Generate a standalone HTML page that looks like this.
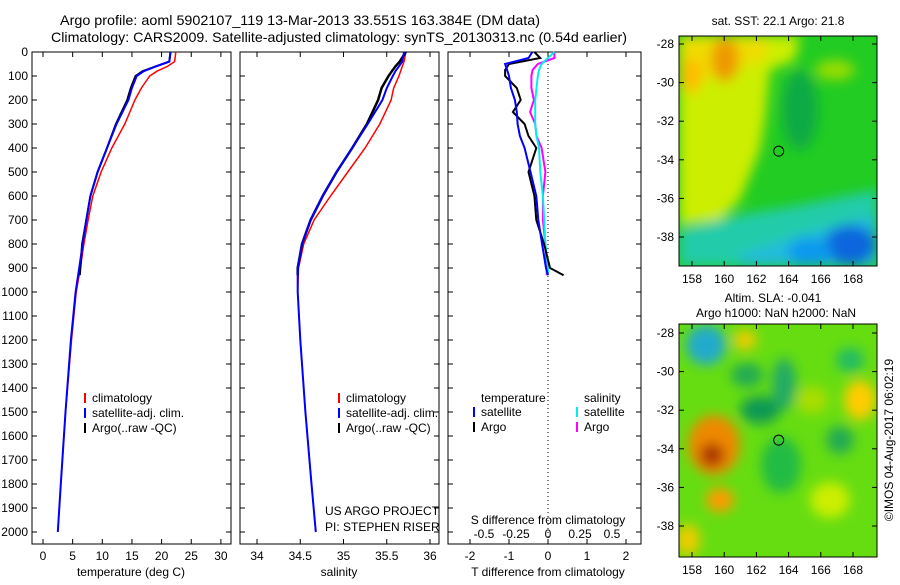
<!DOCTYPE html>
<html><head><meta charset="utf-8"><style>
body{margin:0;background:#fff;width:900px;height:580px;overflow:hidden}
svg{font-family:"Liberation Sans",sans-serif;font-size:12px}
</style></head><body>
<svg id="c" width="900" height="580">
<defs>
<filter id="bl" x="-20%" y="-20%" width="140%" height="140%"><feGaussianBlur stdDeviation="6"/></filter>
<clipPath id="m1"><rect x="679" y="36" width="198" height="230"/></clipPath>
<clipPath id="m2"><rect x="679" y="324" width="198" height="233"/></clipPath>
</defs>
<text x="300" y="25" text-anchor="middle" textLength="480" lengthAdjust="spacingAndGlyphs" style="font-size:14px">Argo profile: aoml 5902107_119 13-Mar-2013 33.551S 163.384E (DM data)</text>
<text x="339" y="42" text-anchor="middle" textLength="576" lengthAdjust="spacingAndGlyphs" style="font-size:14px">Climatology: CARS2009. Satellite-adjusted climatology: synTS_20130313.nc (0.54d earlier)</text>
<g clip-path="url(#m1)">
<rect x="679" y="36" width="198" height="230" fill="#22cc22"/>
<g filter="url(#bl)">
<path d="M679 36 L800 36 L795 60 L770 70 L765 120 L760 150 L740 200 L720 220 L679 225 Z" fill="#ccee00"/>
<path d="M679 36 L770 36 L765 60 L700 80 L679 90 Z" fill="#eedd00"/>
<ellipse cx="725" cy="60" rx="14" ry="22" fill="#ee9900"/>
<ellipse cx="692" cy="75" rx="10" ry="18" fill="#ffbb00"/>
<ellipse cx="835" cy="70" rx="20" ry="10" fill="#99dd00"/>
<ellipse cx="800" cy="110" rx="18" ry="40" fill="#11aa44"/>
<path d="M679 230 L740 215 L800 205 L877 190 L877 266 L679 266 Z" fill="#22ccaa"/>
<path d="M740 255 L800 235 L877 215 L877 266 L740 266 Z" fill="#22bbdd"/>
<ellipse cx="850" cy="245" rx="26" ry="20" fill="#1166dd"/>
<ellipse cx="810" cy="252" rx="22" ry="14" fill="#1199ee"/>
</g></g>
<g clip-path="url(#m2)">
<rect x="679" y="324" width="198" height="233" fill="#66dd11"/>
<g filter="url(#bl)">
<ellipse cx="714" cy="445" rx="26" ry="30" fill="#ee8800"/>
<ellipse cx="712" cy="455" rx="12" ry="12" fill="#aa3300"/>
<ellipse cx="706" cy="345" rx="20" ry="20" fill="#22aacc"/>
<ellipse cx="747" cy="375" rx="16" ry="12" fill="#22aa55"/>
<ellipse cx="784" cy="384" rx="12" ry="26" fill="#22aa66"/>
<ellipse cx="760" cy="410" rx="20" ry="14" fill="#119955"/>
<ellipse cx="781" cy="465" rx="20" ry="28" fill="#22bb44"/>
<ellipse cx="720" cy="500" rx="14" ry="12" fill="#ff9900"/>
<ellipse cx="745" cy="340" rx="12" ry="10" fill="#eecc00"/>
<ellipse cx="860" cy="400" rx="16" ry="20" fill="#ffcc00"/>
<ellipse cx="812" cy="400" rx="16" ry="14" fill="#aadd00"/>
<ellipse cx="840" cy="440" rx="14" ry="14" fill="#22aa55"/>
<ellipse cx="850" cy="360" rx="14" ry="12" fill="#22bb66"/>
<ellipse cx="830" cy="500" rx="20" ry="18" fill="#ccee00"/>
<ellipse cx="688" cy="540" rx="12" ry="16" fill="#eecc00"/>
</g></g>
<g id="plots"></g>
<text transform="translate(893,440) rotate(-90)" text-anchor="middle">©IMOS 04-Aug-2017 06:02:19</text>
</svg>
<script>
// depths (m)
const depthT=[0,40,60,80,100,150,200,300,400,500,600,700,800,900,1000,1200,1500,1800,2000];
const tempSat=[21.5,21.3,19.0,17.0,15.8,15.0,14.4,12.4,10.8,9.2,8.0,7.3,6.7,6.1,5.5,4.7,3.8,3.0,2.5];
const tempClim=[22.4,22.2,21.0,19.2,18.0,16.6,15.5,13.8,11.6,9.8,8.4,7.6,6.9,6.3,5.6,4.8,3.8,3.0,2.5];
const depthArgo=[0,40,60,80,100,150,200,300,400,500,600,700,800,900,930];
const tempArgo=[21.5,21.3,19.0,16.8,15.6,14.8,14.2,12.3,10.8,9.2,8.0,7.3,6.6,6.3,6.2];
const salSat=[35.70,35.68,35.64,35.60,35.57,35.50,35.45,35.28,35.10,34.92,34.76,34.62,34.52,34.47,34.47,34.50,34.56,34.63,34.68];
const salClim=[35.72,35.70,35.68,35.66,35.64,35.58,35.55,35.42,35.25,35.05,34.85,34.66,34.54,34.48,34.47,34.50,34.56,34.63,34.68];
const salArgo=[35.72,35.65,35.60,35.56,35.52,35.44,35.40,35.27,35.10,34.92,34.76,34.62,34.52,34.47,34.47];
const dDepth=[0,25,50,75,100,150,200,250,300,350,400,500,600,700,800,900,930];
const dTsat=[-0.4,-0.5,-1.1,-1.05,-1.0,-0.95,-0.85,-0.8,-0.78,-0.72,-0.6,-0.45,-0.3,-0.25,-0.15,-0.05,0.0];
const dTargo=[-0.35,-0.2,-1.0,-1.1,-1.1,-0.8,-0.7,-0.9,-0.6,-0.5,-0.3,-0.5,-0.35,-0.3,-0.1,0.05,0.4];
const dSsat=[0.05,0.0,-0.05,-0.07,-0.08,-0.09,-0.1,-0.1,-0.1,-0.09,-0.07,-0.06,-0.04,-0.03,-0.02,0.0,0.0];
const dSargo=[0.05,0.05,-0.08,-0.12,-0.13,-0.13,-0.11,-0.14,-0.1,-0.09,-0.05,-0.02,-0.04,-0.04,-0.02,-0.01,-0.01];
const depthTicks=[0,100,200,300,400,500,600,700,800,900,1000,1100,1200,1300,1400,1500,1600,1700,1800,1900,2000];
const tTicks=[0,5,10,15,20,25,30];
const sTicks=[34,34.5,35,35.5,36];
const dtTicks=[-2,-1,0,1,2];
const dsTicks=[-0.5,-0.25,0,0.25,0.5];
const dsLabels=["-0.5","-0.25","0","0.25","0.5"];
const latTicks=[-28,-30,-32,-34,-36,-38];
const lonTicks=[158,160,162,164,166,168];
const argoLon=163.384, argoLat=-33.551;

const NS='http://www.w3.org/2000/svg';
const G=document.getElementById('plots');
function mk(t,a,p){const e=document.createElementNS(NS,t);for(const k in a)e.setAttribute(k,a[k]);(p||G).appendChild(e);return e;}
const yD=d=>52+d*0.24;
const xT=v=>43+v*5.93;
const xS=v=>257+(v-34)*86.5;
const xDT=v=>548+v*39;
const xDS=v=>548+v*128;
function line(xs,ds,fx,col,w,name){
  const pts=xs.map((v,i)=>fx(v).toFixed(1)+','+yD(ds[i]).toFixed(1)).join(' ');
  const e=mk('polyline',{points:pts,fill:'none',stroke:col,'stroke-width':w});
  
  
}
function txt(x,y,s,anchor,name){const e=mk('text',{x:x,y:y,'text-anchor':anchor||'start'});e.textContent=s;
  
  return e;}
function box(x0,x1,name){const e=mk('rect',{x:x0,y:52,width:x1-x0,height:492,fill:'none',stroke:'#000'});
  
  
  depthTicks.forEach(d=>{mk('line',{x1:x0,x2:x0+5,y1:yD(d),y2:yD(d),stroke:'#000'});mk('line',{x1:x1-5,x2:x1,y1:yD(d),y2:yD(d),stroke:'#000'});});
}
box(32,231,'temperature-panel');box(240,439,'salinity-panel');box(448,641,'difference-panel');
depthTicks.forEach(d=>txt(28,yD(d)+4,String(d),'end','depth-tick-label'));
tTicks.forEach(v=>{mk('line',{x1:xT(v),x2:xT(v),y1:544,y2:539,stroke:'#000'});mk('line',{x1:xT(v),x2:xT(v),y1:52,y2:57,stroke:'#000'});txt(xT(v),560,String(v),'middle','temp-tick-label');});
sTicks.forEach(v=>{mk('line',{x1:xS(v),x2:xS(v),y1:544,y2:539,stroke:'#000'});mk('line',{x1:xS(v),x2:xS(v),y1:52,y2:57,stroke:'#000'});txt(xS(v),560,String(v),'middle','sal-tick-label');});
dtTicks.forEach(v=>{mk('line',{x1:xDT(v),x2:xDT(v),y1:544,y2:539,stroke:'#000'});mk('line',{x1:xDT(v),x2:xDT(v),y1:52,y2:57,stroke:'#000'});txt(xDT(v),560,String(v),'middle','dt-tick-label');});
dsTicks.forEach((v,i)=>txt(xDS(v),538,dsLabels[i],'middle','ds-tick-label'));
txt(131,576,'temperature (deg C)','middle','temp-axis-title');
txt(339,576,'salinity','middle','sal-axis-title');
txt(548,576,'T difference from climatology','middle','dt-axis-title');
txt(548,524,'S difference from climatology','middle','ds-axis-title');
mk('line',{x1:548,x2:548,y1:52,y2:544,stroke:'#000','stroke-dasharray':'1,3'});
line(tempClim,depthT,xT,'#f00',1.5,'temp-climatology-line');
line(tempArgo,depthArgo,xT,'#000',2,'temp-argo-line');
line(tempSat,depthT,xT,'#00f',2,'temp-satellite-line');
line(salClim,depthT,xS,'#f00',1.5,'sal-climatology-line');
line(salArgo,depthArgo,xS,'#000',2.5,'sal-argo-line');
line(salSat,depthT,xS,'#00f',2,'sal-satellite-line');
line(dSargo,dDepth,xDS,'#f0f',2,'ds-argo-line');
line(dSsat,dDepth,xDS,'#0ee',2,'ds-satellite-line');
line(dTargo,dDepth,xDT,'#000',2,'dt-argo-line');
line(dTsat,dDepth,xDT,'#00f',2,'dt-satellite-line');
function leg(x,y,col,s){mk('line',{x1:x,x2:x,y1:y-9,y2:y+1,stroke:col,'stroke-width':2});txt(x+7,y,s,'start','legend-entry');}
[[85,'#f00','climatology'],[85,'#00f','satellite-adj. clim.'],[85,'#000','Argo(..raw -QC)']].forEach((r,i)=>leg(r[0],402+i*15,r[1],r[2]));
[[339,'#f00','climatology'],[339,'#00f','satellite-adj. clim.'],[339,'#000','Argo(..raw -QC)']].forEach((r,i)=>leg(r[0],402+i*15,r[1],r[2]));
txt(481,402,'temperature','start','legend-title-temperature');txt(584,402,'salinity','start','legend-title-salinity');
leg(474,416,'#00f','satellite');leg(474,431,'#000','Argo');leg(577,416,'#0ee','satellite');leg(577,431,'#f0f','Argo');
txt(325,515,'US ARGO PROJECT','start','project-label');txt(325,531,'PI: STEPHEN RISER','start','pi-label');
function map(y0,h,lat28,name){
  const lon=v=>692+(v-158)*16.1, lat=v=>lat28+(-28-v)*19.3;
  const e=mk('rect',{x:679,y:y0,width:198,height:h,fill:'none',stroke:'#000'});
  
  
  latTicks.forEach(v=>{mk('line',{x1:679,x2:684,y1:lat(v),y2:lat(v),stroke:'#000'});mk('line',{x1:872,x2:877,y1:lat(v),y2:lat(v),stroke:'#000'});txt(674,lat(v)+4,String(v),'end','lat-tick-label');});
  lonTicks.forEach(v=>{mk('line',{x1:lon(v),x2:lon(v),y1:y0,y2:y0+5,stroke:'#000'});mk('line',{x1:lon(v),x2:lon(v),y1:y0+h,y2:y0+h-5,stroke:'#000'});txt(lon(v),y0+h+17,String(v),'middle','lon-tick-label');});
  const c=mk('circle',{cx:lon(argoLon),cy:lat(argoLat),r:5,fill:'none',stroke:'#000'});
  
  
}
map(36,230,44,'sst-map-frame');map(324,233,333,'sla-map-frame');
txt(778,25,'sat. SST: 22.1 Argo: 21.8','middle','sst-map-title');
txt(773,302,'Altim. SLA: -0.041','middle','sla-map-title');
txt(776,317,'Argo h1000: NaN h2000: NaN','middle','sla-map-subtitle');
</script>
</body></html>
